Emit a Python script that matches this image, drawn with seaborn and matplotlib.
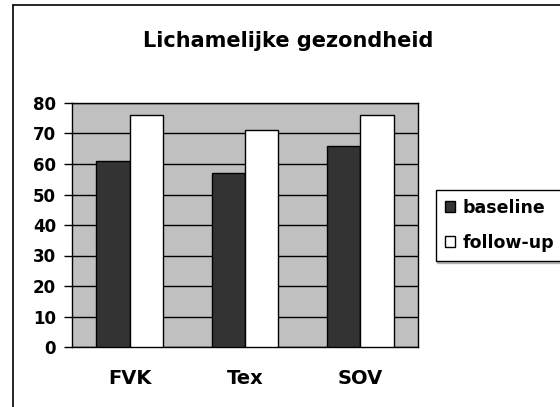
import pandas as pd
import matplotlib.pyplot as plt
import seaborn as sns
from matplotlib.lines import Line2D
from matplotlib.patches import Patch

# Data
categories = ['FVK', 'Tex', 'SOV']
baseline = [61, 57, 66]
follow_up = [76, 71, 76]
series = ['baseline', 'follow-up']
y_ticks = [0, 10, 20, 30, 40, 50, 60, 70, 80]

df = pd.DataFrame({
    'Groep': categories * 2,
    'Meting': [series[0]] * len(categories) + [series[1]] * len(categories),
    'Score': baseline + follow_up,
})

sns.set_style('white')
plt.rcParams['font.family'] = ['DejaVu Sans']
plt.rcParams['font.weight'] = 'bold'
plt.rcParams['text.color'] = 'black'
plt.rcParams['xtick.color'] = 'black'
plt.rcParams['ytick.color'] = 'black'
plt.rcParams['xtick.labelcolor'] = 'black'
plt.rcParams['ytick.labelcolor'] = 'black'

fig = plt.figure(figsize=(5.6, 4.07), dpi=100)
ax = fig.add_axes([72 / 560, 1 - 347 / 407, (418 - 72) / 560, (347 - 103) / 407])

palette = {'baseline': '#333333', 'follow-up': '#ffffff'}
sns.barplot(data=df, x='Groep', y='Score', hue='Meting', palette=palette,
            width=0.58, gap=0, edgecolor='black', linewidth=1, saturation=1,
            ax=ax, zorder=3, legend=False)

# Gray plot area with black gridlines
ax.set_facecolor('#c0c0c0')
ax.set_ylim(0, 80)
ax.set_xlim(-0.5, 2.5)
ax.set_yticks(y_ticks)
ax.yaxis.grid(True, color='black', linewidth=1, zorder=1)
ax.set_axisbelow(True)
ax.set_xticks([-0.5, 0.5, 1.5, 2.5], minor=True)
ax.tick_params(axis='x', which='major', length=0, pad=16, labelsize=14)
ax.tick_params(axis='x', which='minor', length=4.5, width=1, direction='out')
ax.tick_params(axis='y', length=6, width=1, direction='out', left=True, labelsize=12, pad=5.5)
for lab in ax.get_xticklabels() + ax.get_yticklabels():
    lab.set_fontweight('bold')
for sp in ax.spines.values():
    sp.set_color('black')
    sp.set_linewidth(1)
ax.set_xlabel('')
ax.set_ylabel('')

fig.text(288 / 560, 1 - 41 / 407, 'Lichamelijke gezondheid', ha='center', va='center',
         fontsize=15, fontweight='bold')

# Legend
handles = [Patch(facecolor=palette[s], edgecolor='black', linewidth=1) for s in series]
leg = fig.legend(handles, series, loc='upper left', bbox_to_anchor=(436 / 560, 1 - 190 / 407),
                 frameon=True, fancybox=False, shadow={'color': '#888888', 'ox': 1, 'oy': -1.5},
                 handlelength=0.6, handleheight=0.6,
                 handletextpad=0.45, borderpad=0.5, labelspacing=1.0, borderaxespad=0,
                 prop={'weight': 'bold', 'size': 12.5})
leg.get_frame().set_edgecolor('black')
leg.get_frame().set_linewidth(1)

# Outer chart frame (top and left edges visible)
fig.add_artist(Line2D([13 / 560, 1], [1 - 5 / 407, 1 - 5 / 407], color='black', linewidth=1.2))
fig.add_artist(Line2D([13 / 560, 13 / 560], [0, 1 - 5 / 407], color='black', linewidth=1.2))

fig.savefig('out.png', dpi=100)
